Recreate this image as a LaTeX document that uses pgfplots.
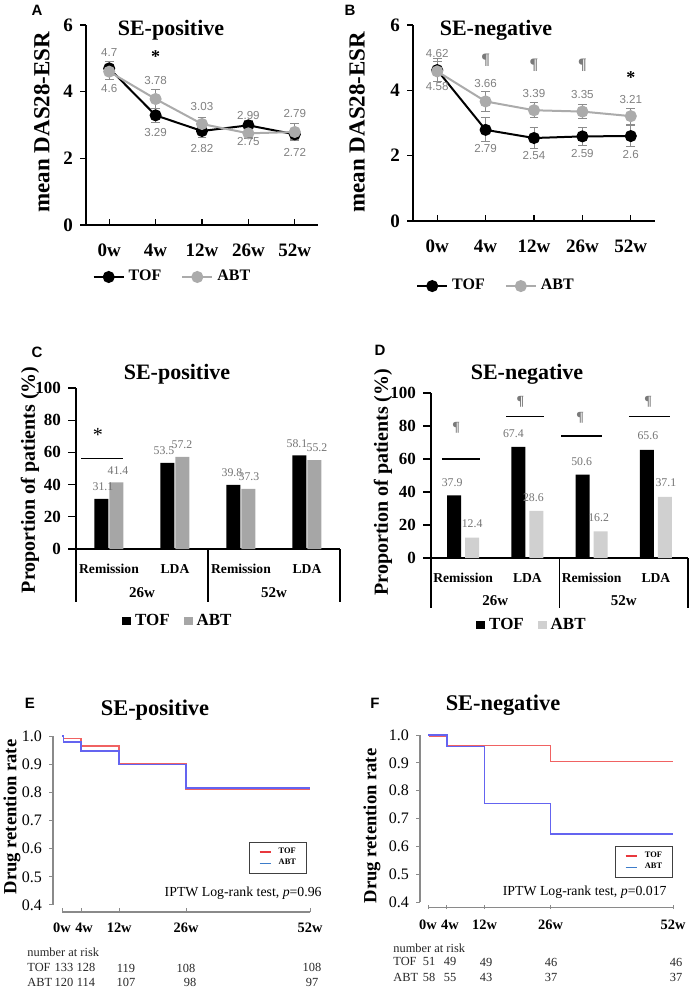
\documentclass[border=0pt]{standalone}
\usepackage{fontspec}
\setmainfont{Liberation Serif}
\newfontfamily\arial{Liberation Sans}
\usepackage{pgfplots}
\usepackage{pgfplotstable}
\pgfplotsset{compat=1.18}

\definecolor{abtgray}{HTML}{ABABAB}
\definecolor{errgray}{HTML}{8C8C8C}
\definecolor{lblgray}{HTML}{808080}
\definecolor{abtbarC}{HTML}{A6A6A6}
\definecolor{abtbarD}{HTML}{D0D0D0}
\definecolor{barlbl}{HTML}{737373}
\definecolor{kmred}{HTML}{F06262}
\definecolor{kmblue}{HTML}{6464F0}
\definecolor{legred}{HTML}{E8383D}
\definecolor{legblue}{HTML}{3D7CC9}
\definecolor{kmaxis}{HTML}{8A8A8A}
\definecolor{pil}{HTML}{7A7A7A}

\newcommand{\fs}[1]{\fontsize{#1}{#1}\selectfont}

% ---------------- data ----------------
% x: week index, y: mean DAS28-ESR, e: error, l: label, s: label shift (pt)
\pgfplotstableread{
x y e l s
0 4.70 0.20 4.7 7.75
1 3.29 0.22 3.29 -8.8
2 2.82 0.20 2.82 -8.8
3 2.99 0.15 2.99 4.7
4 2.72 0.15 2.72 -9.2
}\AtofT
\pgfplotstableread{
x y e l s
0 4.60 0.22 4.6 -8.5
1 3.78 0.28 3.78 9
2 3.03 0.20 3.03 8.5
3 2.75 0.15 2.75 -4.3
4 2.79 0.25 2.79 9
}\AabtT
\pgfplotstableread{
x y e l s
0 4.62 0.35 4.62 8.5
1 2.79 0.37 2.79 -9.2
2 2.54 0.33 2.54 -8.5
3 2.59 0.27 2.59 -8.5
4 2.60 0.32 2.6 -9
}\BtofT
\pgfplotstableread{
x y e l s
0 4.58 0.30 4.58 -7.8
1 3.66 0.32 3.66 9
2 3.39 0.23 3.39 8.5
3 3.35 0.22 3.35 8.5
4 3.21 0.25 3.21 8.5
}\BabtT
% proportion of patients (%)
\pgfplotstableread{
x tof abt
0 31.1 41.4
1 53.5 57.2
2 39.8 37.3
3 58.1 55.2
}\Cdata
\pgfplotstableread{
x tof abt
0 37.9 12.4
1 67.4 28.6
2 50.6 16.2
3 65.6 37.1
}\Ddata

\pgfplotsset{
  lineleg/.style={legend image code/.code={\draw[mark repeat=2,mark phase=2,##1] plot coordinates {(0pt,0pt) (7.5pt,0pt) (15pt,0pt)};}},
  sqleg/.style={legend image code/.code={\fill[##1] (0pt,-2.2pt) rectangle (4.4pt,2.2pt);}},
  kmleg/.style={legend image code/.code={\draw[##1] (0pt,0pt) -- (5.5pt,0pt);}},
  dasax/.style={anchor=south west, scale only axis, xmin=-0.5, xmax=4.5, ymin=0, ymax=6,
    axis x line=bottom, axis y line=left, axis line style={-, line width=0.75pt},
    xtick={0,1,2,3,4}, xticklabels={0w,4w,12w,26w,52w}, ytick={0,2,4,6},
    tick align=outside, major tick length=3pt, tick style={black, line width=0.6pt},
    xtick style={yshift=3pt},
    ticklabel style={font=\fs{9.5}\bfseries}, xticklabel style={yshift=-3pt},
    /pgf/number format/assume math mode=true,
    clip=false,
    ylabel={mean DAS28-ESR}, ylabel style={font=\fs{11.5}\bfseries, anchor=center},
    legend columns=2, legend style={draw=none, fill=none, font=\fs{8}\bfseries, anchor=center,
      /tikz/every even column/.append style={column sep=8pt}},
    lineleg,
    nodes near coords, point meta=explicit symbolic,
    visualization depends on={\thisrow{s} \as \lshift},
    nodes near coords style={anchor=center, yshift=\lshift pt, font=\arial\fs{5.8}, text=lblgray, inner sep=0pt},
  },
  tofstyle/.style={black, line width=1pt, mark=*, mark size=2.5pt, mark options={fill=black, draw=black},
    error bars/.cd, y dir=both, y explicit, error bar style={errgray, line width=0.45pt},
    error mark options={rotate=90, errgray, mark size=2.2pt, line width=0.45pt}},
  abtstyle/.style={abtgray, line width=1pt, mark=*, mark size=2.5pt, mark options={fill=abtgray, draw=abtgray},
    error bars/.cd, y dir=both, y explicit, error bar style={errgray, line width=0.45pt},
    error mark options={rotate=90, errgray, mark size=2.2pt, line width=0.45pt}},
  barax/.style={anchor=south west, scale only axis, xmin=-0.5, xmax=3.5, ymin=0, ymax=100,
    axis x line=bottom, axis y line=left, axis line style={-, line width=0.75pt},
    xtick={0,1,2,3}, xticklabels={Remission,LDA,Remission,LDA}, ytick={0,20,40,60,80,100},
    tick align=outside, major tick length=4pt, tick style={black, line width=0.6pt}, xtick style={draw=none},
    yticklabel style={font=\fs{8.5}\bfseries}, xticklabel style={font=\fs{6.8}\bfseries},
    /pgf/number format/assume math mode=true, clip=false,
    ylabel={Proportion of patients (\%)}, ylabel style={font=\fs{10}\bfseries, anchor=center},
    ybar, bar width=7pt,
    legend columns=2, legend style={draw=none, fill=none, font=\fs{8.5}\bfseries, anchor=center,
      /tikz/every even column/.append style={column sep=5pt}},
  },
  kmax/.style={anchor=south west, scale only axis, ymin=0.375, ymax=1.0, xmax=52,
    axis x line=bottom, axis y line=left, axis line style={draw=none, -},
    xtick={0,4,12,26,52}, xticklabels={0w\hspace{0.5pt},\hspace{3pt}4w,12w,26w,52w},
    ytick={0.4,0.5,0.6,0.7,0.8,0.9,1.0},
    yticklabel style={/pgf/number format/fixed, /pgf/number format/fixed zerofill, /pgf/number format/precision=1, font=\fs{8}},
    xticklabel style={font=\fs{7.2}\bfseries},
    /pgf/number format/assume math mode=true,
    tick align=outside, major tick length=2pt, tick style={kmaxis, line width=0.5pt}, xtick style={yshift=2pt},
    clip=false, ylabel={Drug retention rate}, ylabel style={font=\fs{9.3}\bfseries, anchor=center},
    legend style={anchor=north east, draw=black!75, line width=0.5pt, font=\fs{4.2}\bfseries,
      inner xsep=4.5pt, inner ysep=2pt, nodes={inner sep=0.7pt},
      /tikz/every odd column/.append style={column sep=3pt}},
    kmleg, legend cell align=left,
  },
}
\tikzset{bl/.style={font=\fs{5.9}, text=barlbl, inner sep=0pt}}

\begin{document}
\begin{tikzpicture}
\path[use as bounding box] (0pt,0pt) rectangle (347.5pt,-494.5pt);

% ---------- panel letters and titles ----------
\begin{scope}[every node/.style={inner sep=0pt}]
\node[font=\arial\bfseries\fs{7.5}] at (18.5pt,-5pt) {A};
\node[font=\arial\bfseries\fs{7.5}] at (175pt,-5pt) {B};
\node[font=\arial\bfseries\fs{7.5}] at (18.5pt,-176pt) {C};
\node[font=\arial\bfseries\fs{7.5}] at (190pt,-175pt) {D};
\node[font=\arial\bfseries\fs{7.5}] at (15pt,-351.5pt) {E};
\node[font=\arial\bfseries\fs{7.5}] at (187.5pt,-351.5pt) {F};
\node[font=\bfseries\fs{11}] at (85.5pt,-15pt) {SE-positive};
\node[font=\bfseries\fs{11}] at (248pt,-15pt) {SE-negative};
\node[font=\bfseries\fs{11}] at (88.5pt,-187pt) {SE-positive};
\node[font=\bfseries\fs{11}] at (263.5pt,-187pt) {SE-negative};
\node[font=\bfseries\fs{11.2}] at (77.5pt,-355pt) {SE-positive};
\node[font=\bfseries\fs{11.2}] at (251.5pt,-352.5pt) {SE-negative};
\end{scope}

% ---------- A ----------
\begin{axis}[dasax, at={(43pt,-112.5pt)}, width=116pt, height=100pt,
  legend style={at={(axis description cs:0.377,-0.26)}},
  ylabel style={at={(axis description cs:-0.19,0.515)}}]
\addplot[tofstyle] table[x=x, y=y, y error=e, meta=l] {\AtofT};
\addlegendentry{TOF}
\addplot[abtstyle] table[x=x, y=y, y error=e, meta=l] {\AabtT};
\addlegendentry{ABT}
\node[font=\fs{9}\bfseries] at (axis cs:1,5.04) {*};
\end{axis}

% ---------- B ----------
\begin{axis}[dasax, at={(206.5pt,-110.5pt)}, width=121pt, height=98pt,
  legend style={at={(axis description cs:0.347,-0.332)}},
  ylabel style={at={(axis description cs:-0.231,0.505)}}]
\addplot[tofstyle] table[x=x, y=y, y error=e, meta=l] {\BtofT};
\addlegendentry{TOF}
\addplot[abtstyle] table[x=x, y=y, y error=e, meta=l] {\BabtT};
\addlegendentry{ABT}
\node[font=\fs{8}\bfseries, text=pil] at (axis cs:1,4.93) {¶};
\node[font=\fs{8}\bfseries, text=pil] at (axis cs:2,4.77) {¶};
\node[font=\fs{8}\bfseries, text=pil] at (axis cs:3,4.77) {¶};
\node[font=\fs{9}\bfseries] at (axis cs:4,4.40) {*};
\end{axis}

% ---------- C ----------
\begin{axis}[barax, at={(38pt,-274.5pt)}, width=132pt, height=80.5pt,
  legend style={at={(axis description cs:0.39,-0.447)}},
  ylabel style={at={(axis description cs:-0.174,0.43)}}]
\addplot[fill=black, draw=none, bar shift=-3.75pt, sqleg] table[x=x, y=tof] {\Cdata};
\addlegendentry{TOF}
\addplot[fill=abtbarC, draw=none, bar shift=3.75pt, sqleg] table[x=x, y=abt] {\Cdata};
\addlegendentry{ABT}
\node[bl, xshift=-3pt, yshift=6pt] at (axis cs:0,31.1) {31.1};
\node[bl, xshift=4.5pt, yshift=6pt] at (axis cs:0,41.4) {41.4};
\node[bl, xshift=-5.5pt, yshift=6pt] at (axis cs:1,53.5) {53.5};
\node[bl, xshift=3.5pt, yshift=6pt] at (axis cs:1,57.2) {57.2};
\node[bl, xshift=-4.5pt, yshift=6pt] at (axis cs:2,39.8) {39.8};
\node[bl, xshift=4pt, yshift=6pt] at (axis cs:2,37.3) {37.3};
\node[bl, xshift=-5pt, yshift=6pt] at (axis cs:3,58.1) {58.1};
\node[bl, xshift=5pt, yshift=6pt] at (axis cs:3,55.2) {55.2};
\draw[line width=0.6pt] (axis cs:-0.42,56) -- (axis cs:0.21,56);
\node[font=\fs{10}] at (axis cs:-0.17,71) {*};
\draw[line width=0.75pt] (axis cs:-0.5,0) -- (axis cs:-0.5,-33);
\draw[line width=0.75pt] (axis cs:1.5,0) -- (axis cs:1.5,-33);
\draw[line width=0.75pt] (axis cs:3.5,0) -- (axis cs:3.5,-33);
\node[font=\fs{7.5}\bfseries] at (axis cs:0.5,-27.3) {26w};
\node[font=\fs{7.5}\bfseries] at (axis cs:2.5,-27.3) {52w};
\end{axis}

% ---------- D ----------
\begin{axis}[barax, at={(215.5pt,-279pt)}, width=128.5pt, height=82.5pt,
  legend style={at={(axis description cs:0.397,-0.406)}},
  ylabel style={at={(axis description cs:-0.187,0.46)}}]
\addplot[fill=black, draw=none, bar shift=-4.5pt, sqleg] table[x=x, y=tof] {\Ddata};
\addlegendentry{TOF}
\addplot[fill=abtbarD, draw=none, bar shift=4.5pt, sqleg] table[x=x, y=abt] {\Ddata};
\addlegendentry{ABT}
\node[bl, xshift=-5.5pt, yshift=6.5pt] at (axis cs:0,37.9) {37.9};
\node[bl, xshift=4.5pt, yshift=6.8pt] at (axis cs:0,12.4) {12.4};
\node[bl, xshift=-7pt, yshift=6.8pt] at (axis cs:1,67.4) {67.4};
\node[bl, xshift=3pt, yshift=6.8pt] at (axis cs:1,28.6) {28.6};
\node[bl, xshift=-5pt, yshift=6.5pt] at (axis cs:2,50.6) {50.6};
\node[bl, xshift=3.5pt, yshift=6.8pt] at (axis cs:2,16.2) {16.2};
\node[bl, xshift=-4pt, yshift=7pt] at (axis cs:3,65.6) {65.6};
\node[bl, xshift=5pt, yshift=7pt] at (axis cs:3,37.1) {37.1};
\draw[line width=0.6pt] (axis cs:-0.33,60) -- (axis cs:0.26,60);
\draw[line width=0.6pt] (axis cs:0.67,86) -- (axis cs:1.26,86);
\draw[line width=0.6pt] (axis cs:1.53,74) -- (axis cs:2.16,74);
\draw[line width=0.6pt] (axis cs:2.58,86) -- (axis cs:3.22,86);
\node[font=\fs{7}\bfseries, text=pil] at (axis cs:-0.11,79) {¶};
\node[font=\fs{7}\bfseries, text=pil] at (axis cs:0.89,94.5) {¶};
\node[font=\fs{7}\bfseries, text=pil] at (axis cs:1.82,85) {¶};
\node[font=\fs{7}\bfseries, text=pil] at (axis cs:2.88,94.5) {¶};
\draw[line width=0.75pt] (axis cs:-0.5,0) -- (axis cs:-0.5,-30);
\draw[line width=0.75pt] (axis cs:1.5,0) -- (axis cs:1.5,-30);
\draw[line width=0.75pt] (axis cs:3.5,0) -- (axis cs:3.5,-30);
\node[font=\fs{7.5}\bfseries] at (axis cs:0.5,-26) {26w};
\node[font=\fs{7.5}\bfseries] at (axis cs:2.5,-26) {52w};
\end{axis}

% ---------- E ----------
\begin{axis}[kmax, at={(26.5pt,-456pt)}, width=128.5pt, height=88pt, xmin=-1.89,
  legend style={at={(axis description cs:0.988,0.398)}},
  ylabel style={at={(axis description cs:-0.16,0.54)}}]
\draw[kmaxis, line width=0.6pt] (axis cs:-1.89,0.4) -- (axis cs:-1.89,1.0);
\draw[kmaxis, line width=0.6pt] (axis cs:0,0.375) -- (axis cs:52,0.375);
\addplot[kmred, line width=0.75pt, const plot, forget plot] coordinates
  {(0,1.0) (0.3,0.992) (4,0.965) (12,0.9) (26,0.812) (52,0.812)};
\addplot[kmblue, line width=0.75pt, const plot, forget plot] coordinates
  {(0,1.0) (0.3,0.979) (4,0.947) (12,0.899) (26,0.816) (52,0.816)};
\addlegendimage{legred, line width=0.8pt}
\addlegendentry{TOF}
\addlegendimage{legblue, line width=0.8pt}
\addlegendentry{ABT}
\end{axis}

% ---------- F ----------
\begin{axis}[kmax, at={(210pt,-454.5pt)}, width=126.5pt, height=87pt, xmin=-1.7,
  legend style={at={(axis description cs:1.0,0.362)}},
  ylabel style={at={(axis description cs:-0.19,0.477)}}]
\draw[kmaxis, line width=0.6pt] (axis cs:-1.7,0.4) -- (axis cs:-1.7,1.0);
\draw[kmaxis, line width=0.6pt] (axis cs:0,0.379) -- (axis cs:52,0.379);
\addplot[kmred, line width=0.75pt, const plot, forget plot] coordinates
  {(0,1.0) (0.3,0.994) (4,0.962) (26,0.904) (52,0.904)};
\addplot[kmblue, line width=0.75pt, const plot, forget plot] coordinates
  {(0,1.0) (4,0.958) (12,0.754) (26,0.645) (52,0.645)};
\addlegendimage{legred, line width=0.8pt}
\addlegendentry{TOF}
\addlegendimage{legblue, line width=0.8pt}
\addlegendentry{ABT}
\end{axis}

% ---------- texts below KM plots ----------
\begin{scope}[every node/.style={inner sep=0pt, font=\fs{6.9}}]
\node[anchor=east] at (161pt,-446.5pt) {IPTW Log-rank test, \textit{p}=0.96};
\node[anchor=east] at (333.5pt,-446pt) {IPTW Log-rank test, \textit{p}=0.017};
\end{scope}
\begin{scope}[every node/.style={inner sep=0pt, font=\fs{6.2}, text=black!85}]
\node[anchor=west] at (13.5pt,-476pt) {number at risk};
\node[anchor=west] at (13.5pt,-483.5pt) {TOF};
\node[anchor=west] at (13.5pt,-491pt) {ABT};
\node at (32pt,-483.5pt) {133}; \node at (43pt,-483.5pt) {128}; \node at (63pt,-484pt) {119};
\node at (93pt,-484pt) {108}; \node at (156pt,-483.5pt) {108};
\node at (32pt,-491pt) {120}; \node at (43pt,-491pt) {114}; \node at (63pt,-491pt) {107};
\node at (95pt,-491pt) {98}; \node at (156pt,-491pt) {97};
\node[anchor=west] at (196.5pt,-474pt) {number at risk};
\node[anchor=west] at (196.5pt,-480.5pt) {TOF};
\node[anchor=west] at (196.5pt,-488.5pt) {ABT};
\node at (214.5pt,-480.5pt) {51}; \node at (225pt,-480.5pt) {49}; \node at (243pt,-481pt) {49};
\node at (275.5pt,-481pt) {46}; \node at (338pt,-481pt) {46};
\node at (214.5pt,-488.5pt) {58}; \node at (225pt,-488.5pt) {55}; \node at (243pt,-488.5pt) {43};
\node at (275.5pt,-488.5pt) {37}; \node at (338pt,-488.5pt) {37};
\end{scope}
\end{tikzpicture}
\end{document}
